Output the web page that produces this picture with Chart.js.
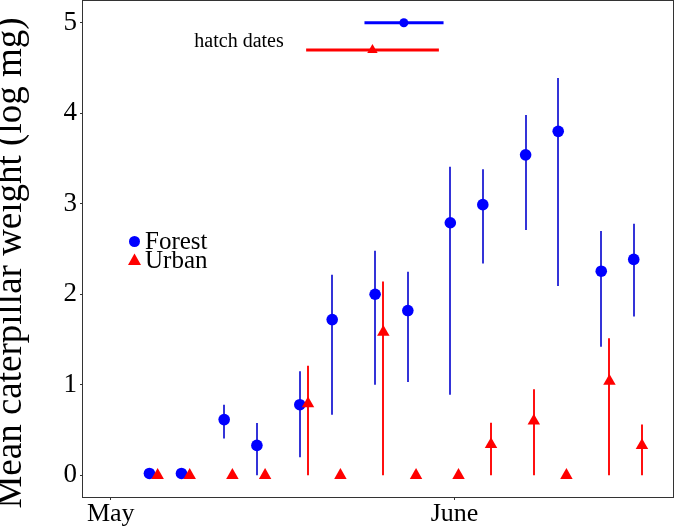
<!DOCTYPE html>
<html>
<head>
<meta charset="utf-8">
<script src="https://cdn.jsdelivr.net/npm/chart.js@4.4.1/dist/chart.umd.min.js"></script>
<style>
  body { margin: 0; background: #fff; }
  #wrap { width: 675px; height: 526px; }
</style>
</head>
<body>
<div id="wrap"><canvas id="chart" width="675" height="526"></canvas></div>
<script>
// dias desde el 1 de mayo de cada muestreo
const sampleDays = [3.86, 6.75, 10.6, 13.55, 17.42, 20.34, 24.21, 27.16, 30.99, 33.92, 37.78, 40.72, 44.6, 47.53];

const forestMean = [0.02, 0.02, 0.615, 0.33, 0.78, 1.72, 2.0, 1.82, 2.79, 2.99, 3.54, 3.80, 2.255, 2.385];
const forestLow  = [null, null, 0.405, 0.0, 0.2, 0.67, 1.0, 1.03, 0.89, 2.34, 2.71, 2.09, 1.42, 1.755];
const forestHigh = [null, null, 0.78, 0.577, 1.15, 2.215, 2.48, 2.25, 3.41, 3.38, 3.98, 4.39, 2.70, 2.78];

const urbanMean = [0, 0, 0, 0, 0.79, 0, 1.58, 0, 0, 0.34, 0.6, 0, 1.04, 0.33];
const urbanLow  = [null, null, null, null, 0, null, 0, null, null, 0, 0, null, 0, 0];
const urbanHigh = [null, null, null, null, 1.21, null, 2.14, null, null, 0.58, 0.95, null, 1.515, 0.56];

// fechas de eclosion: inicio, media, fin (dias desde 1 mayo)
const hatchForest = [22.88, 26.43, 30.01];
const hatchUrban = [17.62, 23.6, 29.59];
const hatchLevels = [5.0, 4.7];

const monthTicks = [0, 31];
const monthLabels = ['May', 'June'];
const yTicks = [0, 1, 2, 3, 4, 5];

const dodge = 0.37;
const serif = 'Liberation Serif';

const errorBars = {
    id: 'errorBars',
    beforeDatasetsDraw(chart) {
        const { ctx, scales: { x, y } } = chart;
        const draw = (lo, hi, shift, color) => {
            ctx.save();
            ctx.strokeStyle = color;
            ctx.lineWidth = 2;
            sampleDays.forEach((d, i) => {
                if (lo[i] == null) return;
                const px = Math.round(x.getPixelForValue(d + shift));
                ctx.beginPath();
                ctx.moveTo(px, y.getPixelForValue(lo[i]));
                ctx.lineTo(px, y.getPixelForValue(hi[i]));
                ctx.stroke();
            });
            ctx.restore();
        };
        draw(forestLow, forestHigh, -dodge, '#3434d8');
        draw(urbanLow, urbanHigh, dodge, '#ff1010');
    }
};

const extras = {
    id: 'extras',
    afterDraw(chart) {
        const { ctx, chartArea: a, scales: { x, y } } = chart;
        ctx.save();
        // marco del panel
        ctx.strokeStyle = '#333';
        ctx.lineWidth = 1;
        ctx.strokeRect(a.left - 0.5, a.top - 0.5, a.right - a.left + 1, a.bottom - a.top + 1);

        // titulo del eje y
        ctx.fillStyle = '#000';
        ctx.save();
        ctx.translate(11.1, 263);
        ctx.rotate(-Math.PI / 2);
        ctx.font = '37px "' + serif + '"';
        ctx.textAlign = 'center';
        ctx.textBaseline = 'middle';
        ctx.fillText('Mean caterpillar weight (log mg)', 0, 0);
        ctx.restore();

        // texto de fechas de eclosion
        ctx.font = '20px "' + serif + '"';
        ctx.textAlign = 'right';
        ctx.textBaseline = 'alphabetic';
        ctx.fillText('hatch dates', x.getPixelForValue(15.6), y.getPixelForValue(4.735));

        // leyenda
        ctx.font = '25px "' + serif + '"';
        ctx.textAlign = 'left';
        ctx.fillText('Forest', 145, 249);
        ctx.fillText('Urban', 145, 268);
        ctx.fillStyle = 'blue';
        ctx.beginPath();
        ctx.arc(134.5, 241.5, 5.5, 0, Math.PI * 2);
        ctx.fill();
        ctx.fillStyle = 'red';
        ctx.beginPath();
        ctx.moveTo(134.5, 253.5);
        ctx.lineTo(141, 265);
        ctx.lineTo(128, 265);
        ctx.closePath();
        ctx.fill();
        ctx.restore();
    }
};

new Chart(document.getElementById('chart'), {
    type: 'scatter',
    data: {
        datasets: [
            {
                label: 'Urban',
                data: sampleDays.map((d, i) => ({ x: d + dodge, y: urbanMean[i] })),
                backgroundColor: 'red',
                borderWidth: 0,
                pointStyle: 'triangle',
                pointRadius: 7.2
            },
            {
                label: 'Forest',
                data: sampleDays.map((d, i) => ({ x: d - dodge, y: forestMean[i] })),
                backgroundColor: 'blue',
                borderWidth: 0,
                pointStyle: 'circle',
                pointRadius: 5.8
            },
            {
                type: 'line',
                label: 'hatch urban',
                data: [{ x: hatchUrban[0], y: hatchLevels[1] }, { x: hatchUrban[2], y: hatchLevels[1] }],
                borderColor: 'red',
                borderWidth: 3,
                pointRadius: 0
            },
            {
                label: 'hatch urban mean',
                data: [{ x: hatchUrban[1], y: hatchLevels[1] }],
                backgroundColor: 'red',
                borderWidth: 0,
                pointStyle: 'triangle',
                pointRadius: 6
            },
            {
                type: 'line',
                label: 'hatch forest',
                data: [{ x: hatchForest[0], y: hatchLevels[0] }, { x: hatchForest[2], y: hatchLevels[0] }],
                borderColor: 'blue',
                borderWidth: 3,
                pointRadius: 0
            },
            {
                label: 'hatch forest mean',
                data: [{ x: hatchForest[1], y: hatchLevels[0] }],
                backgroundColor: 'blue',
                borderWidth: 0,
                pointStyle: 'circle',
                pointRadius: 4.5
            }
        ]
    },
    options: {
        responsive: false,
        animation: false,
        layout: { autoPadding: false, padding: { top: 1, right: 2, left: 0, bottom: 0 } },
        plugins: {
            legend: { display: false },
            tooltip: { enabled: false }
        },
        scales: {
            x: {
                type: 'linear',
                min: -2.5,
                max: 50.7,
                afterBuildTicks: scale => { scale.ticks = monthTicks.map(v => ({ value: v })); },
                afterFit: scale => {
                    scale.height = 29;
                    scale.paddingLeft = 0;
                    scale.paddingRight = 0;
                },
                ticks: {
                    callback: v => monthLabels[monthTicks.indexOf(v)],
                    color: '#000',
                    font: { family: serif, size: 26 },
                    padding: -1,
                    maxRotation: 0
                },
                grid: { drawOnChartArea: false, tickLength: 3, color: '#333' },
                border: { display: false }
            },
            y: {
                min: -0.24,
                max: 5.24,
                afterBuildTicks: scale => { scale.ticks = yTicks.map(v => ({ value: v })); },
                afterFit: scale => {
                    scale.width = 83;
                    scale.paddingTop = 0;
                    scale.paddingBottom = 0;
                },
                ticks: {
                    color: '#000',
                    font: { family: serif, size: 27 },
                    padding: 3
                },
                grid: { drawOnChartArea: false, tickLength: 3, color: '#333' },
                border: { display: false }
            }
        }
    },
    plugins: [errorBars, extras]
});
</script>
</body>
</html>
